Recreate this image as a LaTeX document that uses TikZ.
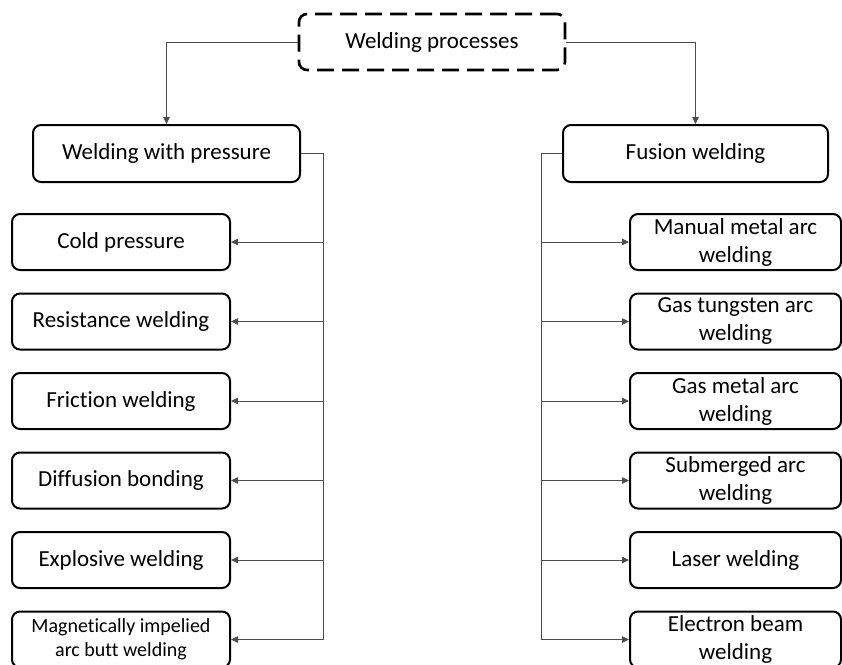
\documentclass[tikz,border=0pt]{standalone}
\usepackage{fontspec}
\setmainfont[Ligatures=NoCommon]{Carlito}
\usetikzlibrary{arrows.meta}
\begin{document}
\begin{tikzpicture}[x=1pt,y=-1pt,
  box/.style={draw=black,line width=2pt,rounded corners=8pt,inner sep=0pt,
    align=center,font=\fontsize{23}{28}\selectfont},
  topbox/.style={box,line width=2.6pt,dash pattern=on 17pt off 8pt},
  leftbox/.style={box,minimum width=218pt,minimum height=56pt},
  rightbox/.style={box,minimum width=211pt,minimum height=56pt},
  link/.style={draw=black!70,line width=0.8pt},
  arr/.style={link,-{Triangle[length=7pt,width=6.5pt]}}]
\useasboundingbox (0,0) rectangle (842,664);

% root and the two main groups
\node[topbox,minimum width=266pt,minimum height=56pt] (root) at (432,42) {Welding processes};
\node[box,minimum width=267pt,minimum height=57pt] (press) at (166.5,153.5) {Welding with pressure};
\node[box,minimum width=265pt,minimum height=57pt] (fus) at (695.5,153.5) {Fusion welding};

% welding with pressure
\node[leftbox] (p1) at (121,242) {Cold pressure};
\node[leftbox] (p2) at (121,321.5) {Resistance welding};
\node[leftbox] (p3) at (121,401) {Friction welding};
\node[leftbox] (p4) at (121,480.5) {Diffusion bonding};
\node[leftbox] (p5) at (121,560) {Explosive welding};
\node[leftbox,font=\fontsize{20}{23.5}\selectfont] (p6) at (121,639.5) {Magnetically impelied\\arc butt welding};

% fusion welding
\node[rightbox] (f1) at (735.5,242) {Manual metal arc\\welding};
\node[rightbox] (f2) at (735.5,321.5) {Gas tungsten arc\\welding};
\node[rightbox] (f3) at (735.5,401) {Gas metal arc\\welding};
\node[rightbox] (f4) at (735.5,480.5) {Submerged arc\\welding};
\node[rightbox] (f5) at (735.5,560) {Laser welding};
\node[rightbox] (f6) at (735.5,639.5) {Electron beam\\welding};

% connectors from the root
\draw[arr] (root.west) -| (press.north);
\draw[arr] (root.east) -| (fus.north);

% trunks
\coordinate (tl) at (323,153.5);
\coordinate (tr) at (541,153.5);
\draw[link] (press.east) -- (tl) -- (tl |- p6.east);
\draw[link] (fus.west) -- (tr) -- (tr |- f6.west);
\foreach \i in {1,...,6}{
  \draw[arr] (tl |- p\i.east) -- (p\i.east);
  \draw[arr] (tr |- f\i.west) -- (f\i.west);
}
\end{tikzpicture}
\end{document}
